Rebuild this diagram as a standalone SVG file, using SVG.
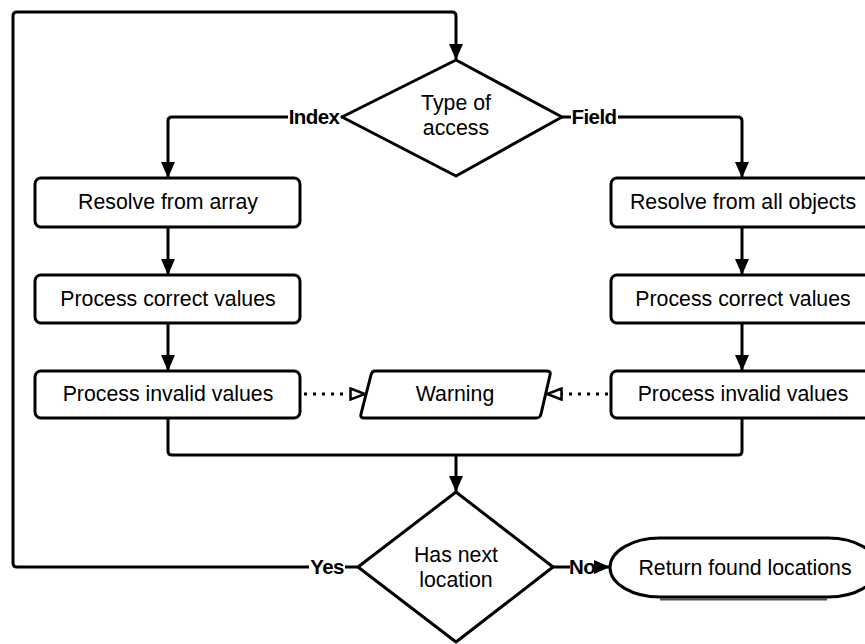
<svg xmlns="http://www.w3.org/2000/svg" width="865" height="644" viewBox="0 0 865 644">
  <style>
    .shape { fill: #ffffff; stroke: #000000; stroke-width: 3; stroke-linejoin: round; }
    .edge { fill: none; stroke: #000000; stroke-width: 3; stroke-linejoin: round; }
    .dotted { fill: none; stroke: #000000; stroke-width: 3; stroke-dasharray: 3 6; }
    .label { font-family: "Liberation Sans", Arial, sans-serif; font-size: 21.3px; fill: #000000; text-anchor: middle; }
    .edge-label { font-family: "Liberation Sans", Arial, sans-serif; font-size: 20.5px; font-weight: bold; fill: #000000; text-anchor: middle; letter-spacing: -0.6px; }
  </style>
  <defs>
    <marker id="arrow" viewBox="0 0 16 14" refX="15" refY="7" markerWidth="16" markerHeight="14" markerUnits="userSpaceOnUse" orient="auto">
      <path d="M0,0 L16,7 L0,14 z" fill="#000000"/>
    </marker>
    <marker id="open-arrow" viewBox="0 0 18 14" refX="16" refY="7" markerWidth="18" markerHeight="14" markerUnits="userSpaceOnUse" orient="auto">
      <path d="M1.5,1.5 L16,7 L1.5,12.5 z" fill="#ffffff" stroke="#000000" stroke-width="2.5" stroke-linejoin="miter"/>
    </marker>
  </defs>

  <rect width="865" height="644" fill="#ffffff"/>

  <!-- connectors -->
  <g id="connectors">
    <!-- loop back from "Yes" to the top decision -->
    <path class="edge" d="M358,567 L17,567 Q13,567 13,563 L13,16 Q13,12 17,12 L452,12 Q456,12 456,16 L456,59" marker-end="url(#arrow)"/>
    <!-- Index branch -->
    <path class="edge" d="M342,117 L172,117 Q168,117 168,121 L168,177" marker-end="url(#arrow)"/>
    <!-- Field branch -->
    <path class="edge" d="M562,117 L738,117 Q742,117 742,121 L742,177" marker-end="url(#arrow)"/>
    <!-- left column -->
    <path class="edge" d="M168,227 L168,274" marker-end="url(#arrow)"/>
    <path class="edge" d="M168,323 L168,370" marker-end="url(#arrow)"/>
    <!-- right column -->
    <path class="edge" d="M742,227 L742,274" marker-end="url(#arrow)"/>
    <path class="edge" d="M742,323 L742,370" marker-end="url(#arrow)"/>
    <!-- merge into second decision -->
    <path class="edge" d="M168,418 L168,451 Q168,455 172,455 L738,455 Q742,455 742,451 L742,418"/>
    <path class="edge" d="M456,455 L456,491" marker-end="url(#arrow)"/>
    <!-- warnings -->
    <path class="dotted" d="M304,394 L348,394"/>
    <path class="dotted" d="M608,394 L560,394"/>
    <path fill="none" stroke="none" d="M346,394 L365,394" marker-end="url(#open-arrow)"/>
    <path fill="none" stroke="none" d="M566,394 L547,394" marker-end="url(#open-arrow)"/>
    <!-- No branch -->
    <path class="edge" d="M553,567 L609,567" marker-end="url(#arrow)"/>

    <!-- edge labels -->
    <rect x="288" y="106" width="53" height="22" fill="#ffffff"/>
    <text class="edge-label" x="314" y="124">Index</text>
    <rect x="571" y="106" width="47" height="22" fill="#ffffff"/>
    <text class="edge-label" x="594" y="124">Field</text>
    <rect x="309" y="556" width="36" height="22" fill="#ffffff"/>
    <text class="edge-label" x="327" y="574">Yes</text>
    <rect x="570" y="556" width="23" height="22" fill="#ffffff"/>
    <text class="edge-label" x="582" y="574">No</text>
  </g>

  <!-- decision: type of access -->
  <g id="type-of-access">
    <polygon class="shape" points="456,60 562,117 456,176 342,117"/>
    <text class="label" x="456" y="110">Type of</text>
    <text class="label" x="456" y="135">access</text>
  </g>

  <g id="resolve-array">
    <rect class="shape" x="35" y="178" width="265" height="49" rx="6"/>
    <text class="label" x="168" y="209">Resolve from array</text>
  </g>
  <g id="process-correct-left">
    <rect class="shape" x="35" y="275" width="265" height="48" rx="6"/>
    <text class="label" x="168" y="306">Process correct values</text>
  </g>
  <g id="process-invalid-left">
    <rect class="shape" x="35" y="371" width="265" height="47" rx="6"/>
    <text class="label" x="168" y="401">Process invalid values</text>
  </g>

  <g id="resolve-objects">
    <rect class="shape" x="611" y="178" width="265" height="49" rx="6"/>
    <text class="label" x="743" y="209">Resolve from all objects</text>
  </g>
  <g id="process-correct-right">
    <rect class="shape" x="611" y="275" width="265" height="48" rx="6"/>
    <text class="label" x="743" y="306">Process correct values</text>
  </g>
  <g id="process-invalid-right">
    <rect class="shape" x="611" y="371" width="265" height="47" rx="6"/>
    <text class="label" x="743" y="401">Process invalid values</text>
  </g>

  <g id="warning">
    <path class="shape" d="M375,371 L547,371 Q551,371 550,375 L541,414 Q540,418 536,418 L364,418 Q360,418 361,414 L371,375 Q372,371 375,371 z"/>
    <text class="label" x="455" y="401">Warning</text>
  </g>

  <!-- decision: has next location -->
  <g id="has-next-location">
    <polygon class="shape" points="456,492 553,567 456,642 358,567"/>
    <text class="label" x="456" y="562">Has next</text>
    <text class="label" x="456" y="587">location</text>
  </g>

  <g id="return-found">
    <line x1="660" y1="599.5" x2="827" y2="599.5" stroke="#555555" stroke-width="2"/>
    <rect class="shape" x="610" y="538" width="268" height="59" rx="50" ry="29.5"/>
    <text class="label" x="745" y="575">Return found locations</text>
  </g>
</svg>
